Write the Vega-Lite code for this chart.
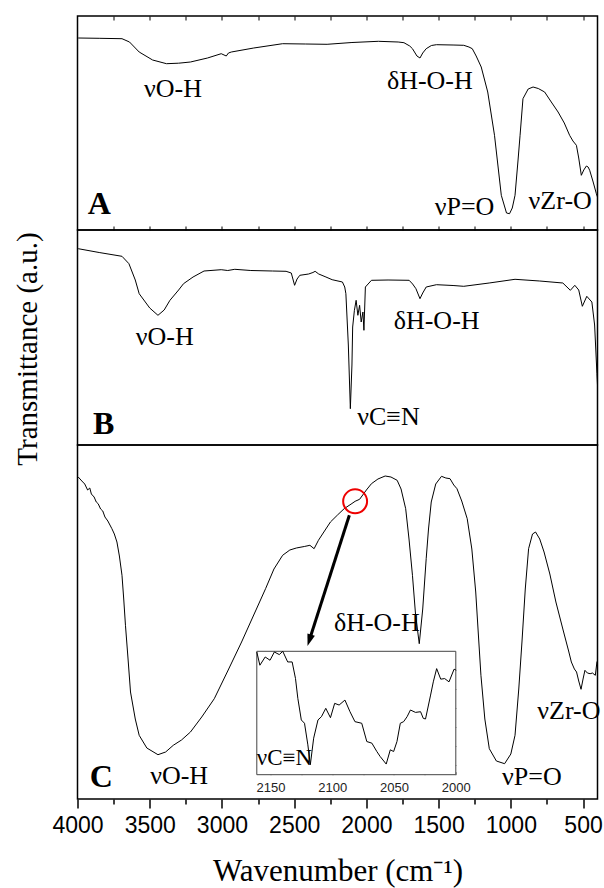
{
  "$schema": "https://vega.github.io/schema/vega-lite/v6.json",
  "padding": {"left": 13.5, "top": 14, "right": 5, "bottom": 4},
  "spacing": 0,
  "bounds": "flush",
  "config": {
    "view": {"stroke": "black", "strokeWidth": 1.5},
    "axis": {"grid": false},
    "concat": {"spacing": 0}
  },
  "datasets": {
    "specA": [
      {"wn":3995,"v":192},{"wn":3850,"v":191.7},{"wn":3692,"v":191.3},{"wn":3640,"v":188},{"wn":3573,"v":178},{"wn":3480,"v":170},{"wn":3384,"v":166.3},{"wn":3300,"v":166.8},{"wn":3218,"v":168},{"wn":3100,"v":172},{"wn":3005,"v":176.3},{"wn":2970,"v":174},{"wn":2955,"v":177},{"wn":2935,"v":178},{"wn":2780,"v":182},{"wn":2580,"v":186.3},{"wn":2420,"v":186},{"wn":2272,"v":185.7},{"wn":2100,"v":187.5},{"wn":1917,"v":188.7},{"wn":1780,"v":188},{"wn":1740,"v":187.3},{"wn":1700,"v":184},{"wn":1681,"v":181.3},{"wn":1650,"v":174},{"wn":1629,"v":172},{"wn":1610,"v":177},{"wn":1586,"v":181.3},{"wn":1550,"v":184.5},{"wn":1515,"v":185.3},{"wn":1400,"v":185},{"wn":1326,"v":184.7},{"wn":1290,"v":183},{"wn":1267,"v":181.3},{"wn":1240,"v":174},{"wn":1205,"v":163},{"wn":1160,"v":138},{"wn":1113,"v":94.7},{"wn":1066,"v":34.7},{"wn":1030,"v":17},{"wn":1009,"v":16.3},{"wn":990,"v":22},{"wn":971,"v":34.7},{"wn":950,"v":70},{"wn":936,"v":94.7},{"wn":916,"v":131.3},{"wn":880,"v":141},{"wn":846,"v":143},{"wn":810,"v":141.5},{"wn":766,"v":138},{"wn":720,"v":128},{"wn":673,"v":118},{"wn":630,"v":107},{"wn":593,"v":94.7},{"wn":570,"v":89},{"wn":546,"v":84.7},{"wn":530,"v":72},{"wn":512,"v":54.7},{"wn":495,"v":60},{"wn":477,"v":64},{"wn":465,"v":63},{"wn":454,"v":59.7},{"wn":430,"v":48},{"wn":408,"v":36.3},{"wn":400,"v":33}
    ],
    "specB": [
      {"wn":3995,"v":196.3},{"wn":3850,"v":192.5},{"wn":3692,"v":188.7},{"wn":3644,"v":181.3},{"wn":3600,"v":165},{"wn":3573,"v":151.3},{"wn":3500,"v":137},{"wn":3443,"v":129.7},{"wn":3400,"v":135},{"wn":3360,"v":144.7},{"wn":3300,"v":155},{"wn":3266,"v":161.3},{"wn":3200,"v":168},{"wn":3124,"v":174},{"wn":3005,"v":175.3},{"wn":2960,"v":174.5},{"wn":2911,"v":175.7},{"wn":2800,"v":174.5},{"wn":2650,"v":174},{"wn":2556,"v":173.7},{"wn":2520,"v":172},{"wn":2497,"v":159.7},{"wn":2480,"v":166},{"wn":2461,"v":169.7},{"wn":2400,"v":171},{"wn":2370,"v":172.5},{"wn":2355,"v":173.7},{"wn":2330,"v":171},{"wn":2280,"v":168},{"wn":2237,"v":165.3},{"wn":2166,"v":163},{"wn":2150,"v":158},{"wn":2142,"v":151.3},{"wn":2125,"v":100},{"wn":2111,"v":36.3},{"wn":2100,"v":80},{"wn":2095,"v":118},{"wn":2083,"v":134.7},{"wn":2071,"v":144.7},{"wn":2059,"v":129.7},{"wn":2047,"v":139.7},{"wn":2036,"v":123},{"wn":2024,"v":133},{"wn":2017,"v":114.7},{"wn":2007,"v":158},{"wn":1965,"v":164.7},{"wn":1850,"v":165},{"wn":1704,"v":164.7},{"wn":1680,"v":161},{"wn":1657,"v":156.3},{"wn":1629,"v":146.3},{"wn":1610,"v":152},{"wn":1586,"v":158},{"wn":1515,"v":160.3},{"wn":1400,"v":159.5},{"wn":1326,"v":158.7},{"wn":1150,"v":162},{"wn":971,"v":165.7},{"wn":800,"v":164},{"wn":640,"v":162},{"wn":588,"v":154.7},{"wn":557,"v":159.7},{"wn":530,"v":155},{"wn":505,"v":138.7},{"wn":474,"v":148.7},{"wn":439,"v":143},{"wn":420,"v":120},{"wn":404,"v":71.3},{"wn":400,"v":60}
    ],
    "specC": [
      {"wn":3995,"v":322},{"wn":3970,"v":318},{"wn":3950,"v":315},{"wn":3930,"v":309},{"wn":3915,"v":311},{"wn":3904,"v":305},{"wn":3885,"v":302},{"wn":3870,"v":297},{"wn":3857,"v":295.3},{"wn":3840,"v":290},{"wn":3825,"v":288},{"wn":3810,"v":282},{"wn":3790,"v":278},{"wn":3762,"v":270.3},{"wn":3745,"v":265},{"wn":3727,"v":257},{"wn":3710,"v":243},{"wn":3692,"v":223.7},{"wn":3680,"v":200},{"wn":3668,"v":173.7},{"wn":3650,"v":140},{"wn":3633,"v":107},{"wn":3600,"v":80},{"wn":3573,"v":63.7},{"wn":3520,"v":51},{"wn":3443,"v":44.3},{"wn":3390,"v":47},{"wn":3337,"v":53.7},{"wn":3280,"v":59},{"wn":3218,"v":67},{"wn":3140,"v":82},{"wn":3053,"v":100.3},{"wn":2960,"v":128},{"wn":2864,"v":157},{"wn":2780,"v":184},{"wn":2698,"v":210.3},{"wn":2640,"v":230},{"wn":2580,"v":243.7},{"wn":2530,"v":249},{"wn":2485,"v":251},{"wn":2430,"v":252.5},{"wn":2391,"v":253.7},{"wn":2362,"v":250.3},{"wn":2332,"v":258.7},{"wn":2290,"v":268},{"wn":2249,"v":277},{"wn":2200,"v":284},{"wn":2154,"v":290.3},{"wn":2100,"v":295.5},{"wn":2078,"v":297.7},{"wn":2047,"v":299.7},{"wn":2000,"v":309},{"wn":1965,"v":315.3},{"wn":1920,"v":320},{"wn":1870,"v":323},{"wn":1830,"v":322},{"wn":1787,"v":318.7},{"wn":1760,"v":310},{"wn":1728,"v":290.3},{"wn":1705,"v":260},{"wn":1681,"v":223.7},{"wn":1660,"v":185},{"wn":1634,"v":155.3},{"wn":1610,"v":190},{"wn":1586,"v":240.3},{"wn":1570,"v":270},{"wn":1551,"v":297},{"wn":1520,"v":315},{"wn":1480,"v":322.7},{"wn":1450,"v":321},{"wn":1421,"v":320.3},{"wn":1395,"v":314},{"wn":1373,"v":310.3},{"wn":1340,"v":298},{"wn":1302,"v":280.3},{"wn":1270,"v":250},{"wn":1243,"v":207},{"wn":1225,"v":165},{"wn":1207,"v":123.7},{"wn":1180,"v":80},{"wn":1149,"v":50.3},{"wn":1100,"v":38},{"wn":1043,"v":35.3},{"wn":1000,"v":45},{"wn":971,"v":63.7},{"wn":945,"v":110},{"wn":923,"v":157},{"wn":900,"v":210},{"wn":877,"v":250.3},{"wn":850,"v":265},{"wn":829,"v":267},{"wn":800,"v":260},{"wn":770,"v":247},{"wn":730,"v":225},{"wn":688,"v":197},{"wn":640,"v":170},{"wn":600,"v":148},{"wn":581,"v":137},{"wn":560,"v":130},{"wn":545,"v":127},{"wn":530,"v":118},{"wn":514,"v":109.7},{"wn":500,"v":120},{"wn":487,"v":128.7},{"wn":470,"v":126},{"wn":451,"v":125.3},{"wn":435,"v":126},{"wn":415,"v":123.7},{"wn":404,"v":137},{"wn":400,"v":138}
    ],
    "inset": [
      {"wn":2161,"v":123.3},{"wn":2158.5,"v":110},{"wn":2154.2,"v":118.3},{"wn":2150.3,"v":115},{"wn":2146.8,"v":123.3},{"wn":2142.8,"v":120.7},{"wn":2140,"v":124},{"wn":2136,"v":113.3},{"wn":2132.4,"v":113.3},{"wn":2129.7,"v":96.7},{"wn":2127.8,"v":76.7},{"wn":2125,"v":55},{"wn":2122.4,"v":51.7},{"wn":2119.7,"v":30},{"wn":2117.7,"v":10},{"wn":2115,"v":36.7},{"wn":2111.5,"v":55},{"wn":2108.7,"v":58.3},{"wn":2105.2,"v":66.7},{"wn":2101.4,"v":57.3},{"wn":2098,"v":71.7},{"wn":2094.4,"v":70},{"wn":2089.7,"v":75},{"wn":2085.6,"v":63.3},{"wn":2081.6,"v":53.3},{"wn":2076.1,"v":51.7},{"wn":2072,"v":33.3},{"wn":2067.9,"v":31.7},{"wn":2063.9,"v":23.3},{"wn":2061.2,"v":18.3},{"wn":2056.3,"v":10.7},{"wn":2053,"v":25},{"wn":2050.3,"v":23.3},{"wn":2047.6,"v":33.3},{"wn":2044.9,"v":51.7},{"wn":2042.2,"v":53.3},{"wn":2039.4,"v":58.3},{"wn":2036.7,"v":65},{"wn":2032.6,"v":62.6},{"wn":2028.5,"v":63.3},{"wn":2026.3,"v":56.6},{"wn":2024.5,"v":56},{"wn":2020.4,"v":80},{"wn":2018.2,"v":93.3},{"wn":2015.5,"v":106.6},{"wn":2012.2,"v":96},{"wn":2009,"v":96.6},{"wn":2005.5,"v":93.3},{"wn":2001.4,"v":106},{"wn":2000,"v":105.3}
    ],
    "annA": [
      {"wn":3540,"v":133,"t":"νO-H"},{"wn":1858,"v":141.3,"t":"δH-O-H"},{"wn":1527,"v":15,"t":"νP=O"},{"wn":877,"v":21,"t":"νZr-O"}
    ],
    "annB": [
      {"wn":3597,"v":100,"t":"νO-H"},{"wn":1811,"v":116,"t":"δH-O-H"},{"wn":2064,"v":20,"t":"νC≡N"}
    ],
    "annC": [
      {"wn":3497,"v":15,"t":"νO-H"},{"wn":2225,"v":168,"t":"δH-O-H"},{"wn":1061,"v":14,"t":"νP=O"},{"wn":817,"v":80,"t":"νZr-O"}
    ]
  },
  "vconcat": [
    {
      "width": 520, "height": 214,
      "layer": [
        {
          "data": {"name": "specA"},
          "mark": {"type": "line", "color": "black", "strokeWidth": 1},
          "encoding": {
            "x": {"field": "wn", "type": "quantitative", "scale": {"domain": [400, 4000], "reverse": true, "nice": false, "zero": false},
                  "axis": {"orient": "bottom", "title": null, "labels": false, "domain": false, "values": [500,750,1000,1250,1500,1750,2000,2250,2500,2750,3000,3250,3500,3750], "tickSize": -4, "tickColor": "black", "tickWidth": 1}},
            "y": {"field": "v", "type": "quantitative", "scale": {"domain": [0, 214], "nice": false, "zero": false}, "axis": null}
          }
        },
        {
          "data": {"name": "annA"},
          "mark": {"type": "text", "font": "Liberation Serif", "fontSize": 26, "align": "left", "baseline": "alphabetic", "color": "black"},
          "encoding": {
            "x": {"field": "wn", "type": "quantitative", "scale": {"domain": [400, 4000], "reverse": true, "nice": false, "zero": false},
                  "axis": {"orient": "top", "title": null, "labels": false, "domain": false, "values": [500,750,1000,1250,1500,1750,2000,2250,2500,2750,3000,3250,3500,3750], "tickSize": -4, "tickColor": "black", "tickWidth": 1}},
            "y": {"field": "v", "type": "quantitative", "scale": {"domain": [0, 214], "nice": false, "zero": false}, "axis": null},
            "text": {"field": "t"}
          }
        },
        {
          "data": {"values": [{"wn": 3929, "v": 16.3, "t": "A"}]},
          "mark": {"type": "text", "font": "Liberation Serif", "fontSize": 32, "fontWeight": "bold", "align": "left", "baseline": "alphabetic", "color": "black"},
          "encoding": {
            "x": {"field": "wn", "type": "quantitative", "scale": {"domain": [400, 4000], "reverse": true, "nice": false, "zero": false}, "axis": null},
            "y": {"field": "v", "type": "quantitative", "scale": {"domain": [0, 214], "nice": false, "zero": false}, "axis": null},
            "text": {"field": "t"}
          }
        }
      ]
    },
    {
      "width": 520, "height": 215,
      "layer": [
        {
          "data": {"name": "specB"},
          "mark": {"type": "line", "color": "black", "strokeWidth": 1},
          "encoding": {
            "x": {"field": "wn", "type": "quantitative", "scale": {"domain": [400, 4000], "reverse": true, "nice": false, "zero": false},
                  "axis": {"orient": "bottom", "title": null, "labels": false, "domain": false, "values": [500,750,1000,1250,1500,1750,2000,2250,2500,2750,3000,3250,3500,3750], "tickSize": -4, "tickColor": "black", "tickWidth": 1}},
            "y": {"field": "v", "type": "quantitative", "scale": {"domain": [0, 215], "nice": false, "zero": false}, "axis": null}
          }
        },
        {
          "data": {"name": "annB"},
          "mark": {"type": "text", "font": "Liberation Serif", "fontSize": 26, "align": "left", "baseline": "alphabetic", "color": "black"},
          "encoding": {
            "x": {"field": "wn", "type": "quantitative", "scale": {"domain": [400, 4000], "reverse": true, "nice": false, "zero": false}, "axis": null},
            "y": {"field": "v", "type": "quantitative", "scale": {"domain": [0, 215], "nice": false, "zero": false}, "axis": null},
            "text": {"field": "t"}
          }
        },
        {
          "data": {"values": [{"wn": 3893, "v": 11, "t": "B"}]},
          "mark": {"type": "text", "font": "Liberation Serif", "fontSize": 32, "fontWeight": "bold", "align": "left", "baseline": "alphabetic", "color": "black"},
          "encoding": {
            "x": {"field": "wn", "type": "quantitative", "scale": {"domain": [400, 4000], "reverse": true, "nice": false, "zero": false}, "axis": null},
            "y": {"field": "v", "type": "quantitative", "scale": {"domain": [0, 215], "nice": false, "zero": false}, "axis": null},
            "text": {"field": "t"}
          }
        },
        {
          "data": {"values": [{"wn": 4340, "v": 96, "t": "Transmittance (a.u.)"}]},
          "mark": {"type": "text", "font": "Liberation Serif", "fontSize": 29, "align": "center", "baseline": "middle", "angle": 270, "color": "black"},
          "encoding": {
            "x": {"field": "wn", "type": "quantitative", "scale": {"domain": [400, 4000], "reverse": true, "nice": false, "zero": false}, "axis": null},
            "y": {"field": "v", "type": "quantitative", "scale": {"domain": [0, 215], "nice": false, "zero": false}, "axis": null},
            "text": {"field": "t"}
          }
        }
      ]
    },
    {
      "width": 520, "height": 354,
      "resolve": {"scale": {"x": "independent", "y": "independent"}},
      "layer": [
        {
          "layer": [
            {
              "data": {"name": "specC"},
              "mark": {"type": "line", "color": "black", "strokeWidth": 1},
              "encoding": {
                "x": {"field": "wn", "type": "quantitative", "scale": {"domain": [400, 4000], "reverse": true, "nice": false, "zero": false},
                      "axis": {"orient": "bottom", "title": "Wavenumber (cm⁻¹)", "titleFont": "Liberation Serif", "titleFontSize": 31, "titleFontWeight": "normal", "titleColor": "black", "titlePadding": 19,
                               "values": [500,1000,1500,2000,2500,3000,3500,4000], "format": "d",
                               "labelFont": "Liberation Sans", "labelFontSize": 23, "labelColor": "black", "labelPadding": 6, "labelOverlap": false, "labelFlush": false, "labelBound": false,
                               "domain": false, "tickColor": "black", "tickWidth": 1.5, "tickSize": 9}},
                "y": {"field": "v", "type": "quantitative", "scale": {"domain": [0, 354], "nice": false, "zero": false}, "axis": null}
              }
            },
            {
              "data": {"name": "annC"},
              "mark": {"type": "text", "font": "Liberation Serif", "fontSize": 26, "align": "left", "baseline": "alphabetic", "color": "black"},
              "encoding": {
                "x": {"field": "wn", "type": "quantitative", "scale": {"domain": [400, 4000], "reverse": true, "nice": false, "zero": false},
                      "axis": {"orient": "top", "offset": -354, "title": null, "labels": false, "domain": false, "values": [750,1250,1750,2250,2750,3250,3750], "tickSize": -5, "tickColor": "black", "tickWidth": 1.5}},
                "y": {"field": "v", "type": "quantitative", "scale": {"domain": [0, 354], "nice": false, "zero": false}, "axis": null},
                "text": {"field": "t"}
              }
            },
            {
              "data": {"values": [{"wn": 3916, "v": 12, "t": "C"}]},
              "mark": {"type": "text", "font": "Liberation Serif", "fontSize": 32, "fontWeight": "bold", "align": "left", "baseline": "alphabetic", "color": "black"},
              "encoding": {
                "x": {"field": "wn", "type": "quantitative", "scale": {"domain": [400, 4000], "reverse": true, "nice": false, "zero": false}, "axis": null},
                "y": {"field": "v", "type": "quantitative", "scale": {"domain": [0, 354], "nice": false, "zero": false}, "axis": null},
                "text": {"field": "t"}
              }
            },
            {
              "data": {"values": [{"wn": 2078, "v": 297.7}]},
              "mark": {"type": "point", "shape": "circle", "size": 573, "filled": false, "stroke": "#ee0000", "strokeWidth": 2, "opacity": 1},
              "encoding": {
                "x": {"field": "wn", "type": "quantitative", "scale": {"domain": [400, 4000], "reverse": true, "nice": false, "zero": false}, "axis": null},
                "y": {"field": "v", "type": "quantitative", "scale": {"domain": [0, 354], "nice": false, "zero": false}, "axis": null}
              }
            },
            {
              "data": {"values": [{"wn": 2118, "v": 283.7, "wn2": 2395, "v2": 158.7}]},
              "mark": {"type": "rule", "color": "black", "strokeWidth": 3},
              "encoding": {
                "x": {"field": "wn", "type": "quantitative", "scale": {"domain": [400, 4000], "reverse": true, "nice": false, "zero": false}, "axis": null},
                "y": {"field": "v", "type": "quantitative", "scale": {"domain": [0, 354], "nice": false, "zero": false}, "axis": null},
                "x2": {"field": "wn2"},
                "y2": {"field": "v2"}
              }
            },
            {
              "data": {"values": [{"wn": 2395, "v": 158.7}]},
              "mark": {"type": "point", "shape": "M0,-1L0.65,1L-0.65,1Z", "size": 144, "filled": true, "color": "black", "opacity": 1, "angle": 197.7},
              "encoding": {
                "x": {"field": "wn", "type": "quantitative", "scale": {"domain": [400, 4000], "reverse": true, "nice": false, "zero": false}, "axis": null},
                "y": {"field": "v", "type": "quantitative", "scale": {"domain": [0, 354], "nice": false, "zero": false}, "axis": null}
              }
            }
          ]
        },
        {
          "layer": [
            {
              "data": {"values": [{"wn": 2161, "wn2": 2000, "v": 0, "v2": 124}]},
              "mark": {"type": "rect", "fill": "white", "stroke": "#444444", "strokeWidth": 1},
              "encoding": {
                "x": {"field": "wn", "type": "quantitative", "scale": {"domain": [2000, 2161], "reverse": true, "nice": false, "zero": false, "range": [179.3, 378.3]},
                      "axis": {"orient": "bottom", "offset": -24.3, "title": null, "values": [2000, 2025, 2050, 2075, 2100, 2125, 2150],
                               "labelExpr": "datum.value % 50 === 0 ? format(datum.value, 'd') : ''",
                               "labelFont": "Liberation Sans", "labelFontSize": 13, "labelColor": "#222222", "labelPadding": 10, "labelOverlap": false, "labelFlush": false, "labelBound": false,
                               "domain": false, "tickColor": "#444444", "tickSize": -3}},
                "x2": {"field": "wn2"},
                "y": {"field": "v", "type": "quantitative", "scale": {"domain": [0, 124], "nice": false, "zero": false, "range": [329.7, 206.3]},
                      "axis": {"orient": "left", "offset": -179.3, "title": null, "labels": false, "domain": false, "values": [10, 29, 48, 67, 86, 105], "tickColor": "#444444", "tickSize": -3}},
                "y2": {"field": "v2"}
              }
            },
            {
              "data": {"name": "inset"},
              "mark": {"type": "line", "color": "black", "strokeWidth": 1},
              "encoding": {
                "x": {"field": "wn", "type": "quantitative", "scale": {"domain": [2000, 2161], "reverse": true, "nice": false, "zero": false, "range": [179.3, 378.3]},
                      "axis": {"orient": "top", "offset": -206.3, "title": null, "labels": false, "domain": false, "values": [2025, 2050, 2075, 2100, 2125, 2150], "tickColor": "#444444", "tickSize": -3}},
                "y": {"field": "v", "type": "quantitative", "scale": {"domain": [0, 124], "nice": false, "zero": false, "range": [329.7, 206.3]},
                      "axis": {"orient": "right", "offset": -141.7, "title": null, "labels": false, "domain": false, "values": [10, 29, 48, 67, 86, 105], "tickColor": "#444444", "tickSize": -3}}
              }
            },
            {
              "data": {"values": [{"wn": 2161, "v": 9.6, "t": "νC≡N"}]},
              "mark": {"type": "text", "font": "Liberation Serif", "fontSize": 23, "align": "left", "baseline": "alphabetic", "color": "black"},
              "encoding": {
                "x": {"field": "wn", "type": "quantitative", "scale": {"domain": [2000, 2161], "reverse": true, "nice": false, "zero": false, "range": [179.3, 378.3]}, "axis": null},
                "y": {"field": "v", "type": "quantitative", "scale": {"domain": [0, 124], "nice": false, "zero": false, "range": [329.7, 206.3]}, "axis": null},
                "text": {"field": "t"}
              }
            }
          ]
        }
      ]
    }
  ]
}
